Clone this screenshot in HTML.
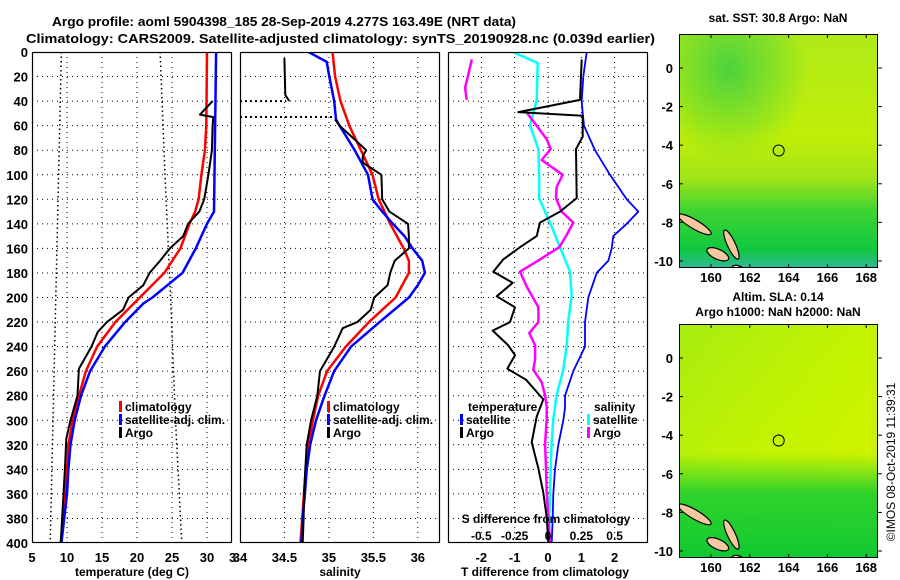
<!DOCTYPE html>
<html><head><meta charset="utf-8"><style>
html,body{margin:0;padding:0;background:#fff;}
svg{display:block;font-family:"Liberation Sans",Arial,sans-serif;font-weight:bold;}
</style></head><body>
<svg id="fig" width="900" height="580" viewBox="0 0 900 580" xmlns="http://www.w3.org/2000/svg">
<defs>
<linearGradient id="g1" x1="0" y1="0" x2="0" y2="1">
<stop offset="0" stop-color="#b0ea18"/><stop offset="0.45" stop-color="#c0ee08"/><stop offset="0.62" stop-color="#a0e418"/><stop offset="0.75" stop-color="#40d430"/><stop offset="0.92" stop-color="#10c840"/><stop offset="1" stop-color="#30b898"/>
</linearGradient>
<radialGradient id="g1b" cx="0.25" cy="0.15" r="0.4"><stop offset="0" stop-color="#40d040" stop-opacity="0.9"/><stop offset="1" stop-color="#40d040" stop-opacity="0"/></radialGradient>
<linearGradient id="g2" x1="0" y1="0" x2="1" y2="1">
<stop offset="0" stop-color="#a8ec10"/><stop offset="0.5" stop-color="#c4f400"/><stop offset="1" stop-color="#d8f000"/>
</linearGradient>
<linearGradient id="g2b" x1="0" y1="0" x2="0" y2="1">
<stop offset="0" stop-color="#30d030" stop-opacity="0"/><stop offset="0.55" stop-color="#30d030" stop-opacity="0"/><stop offset="0.72" stop-color="#20d030" stop-opacity="0.9"/><stop offset="1" stop-color="#10c830" stop-opacity="1"/>
</linearGradient>
<clipPath id="c1"><rect x="32" y="52" width="200" height="491"/></clipPath>
<clipPath id="c2"><rect x="240" y="52" width="200" height="491"/></clipPath>
<clipPath id="c3"><rect x="448" y="52" width="200" height="491"/></clipPath>
<clipPath id="cm1"><rect x="679" y="34" width="199" height="234"/></clipPath>
<clipPath id="cm2"><rect x="679" y="324" width="199" height="234"/></clipPath>
</defs>
<text x="52" y="26" font-size="13" textLength="464" lengthAdjust="spacingAndGlyphs">Argo profile: aoml 5904398_185 28-Sep-2019 4.277S 163.49E (NRT data)</text>
<text x="26" y="43" font-size="13" textLength="629" lengthAdjust="spacingAndGlyphs">Climatology: CARS2009. Satellite-adjusted climatology: synTS_20190928.nc (0.039d earlier)</text>
<g id="p1"></g>
<g id="p2"></g>
<g id="p3"></g>
<g id="m1"></g>
<g id="m2"></g>
<text transform="translate(895,462) rotate(-90)" text-anchor="middle" font-size="12" font-weight="normal">©IMOS 08-Oct-2019 11:39:31</text>
</svg>
<script>
// ---------- data ----------
const depthTicks = [0,20,40,60,80,100,120,140,160,180,200,220,240,260,280,300,320,340,360,380,400];
const tTickLabels = [5,10,15,20,25,30];
const sTickLabels = [34,34.5,35,35.5,36];
const dTTickLabels = [-2,-1,0,1,2];
const dSTickLabels = ["-0.5","-0.25","0","0.25","0.5"];
const dSTickValues = [-0.5,-0.25,0,0.25,0.5];

const tClimDepth = [0,60,80,100,120,130,140,160,180,200,220,240,260,280,300,320,340,360,380,400];
const tClim      = [30.0,29.9,29.7,29.2,28.8,28.3,27.5,26.2,23.9,20.4,16.9,14.3,12.7,11.7,10.8,10.2,10.0,9.8,9.5,9.1];
const tSatDepth  = [0,130,140,160,180,200,205,220,240,260,280,300,320,340,360,380,400];
const tSat       = [31.3,31.0,30.0,28.4,26.5,22.2,20.9,18.3,15.4,13.3,12.0,11.1,10.5,10.2,10.0,9.6,9.2];
const tArgoDepth = [40,51,53,60,80,100,120,130,140,150,160,170,180,190,200,210,220,228,240,258,280,300,315,340,360,380,400];
const tArgo      = [30.8,29.0,30.9,30.8,30.7,30.2,29.6,28.9,27.3,26.6,24.7,23.3,21.8,20.9,18.8,18.0,15.7,14.4,13.5,11.7,11.5,10.5,9.9,9.7,9.5,9.3,9.1];
const tMinDepth = [0,400];
const tMin = [9.2,7.6];
const tMaxDepth = [0,100,200,300,400];
const tMax = [23.3,24.0,24.8,25.5,26.4];

const sClimDepth = [0,20,40,60,80,100,120,140,160,170,180,200,220,240,260,280,300,320,340,360,380,400];
const sClim      = [35.04,35.07,35.13,35.23,35.36,35.49,35.56,35.69,35.84,35.90,35.90,35.75,35.45,35.19,34.98,34.88,34.82,34.77,34.74,34.72,34.70,34.68];
const sSatDepth  = [0,8,20,40,55,60,80,100,120,130,140,150,160,170,180,190,200,220,240,260,280,300,320,340,360,380,400];
const sSat       = [34.77,34.975,35.005,35.06,35.08,35.12,35.29,35.44,35.49,35.60,35.72,35.85,35.94,36.05,36.08,36.00,35.90,35.57,35.25,35.06,34.95,34.855,34.79,34.75,34.73,34.705,34.69];
const sArgoTopDepth = [5,35,40];
const sArgoTop = [34.50,34.51,34.555];
const sArgoDepth = [55,60,70,80,85,90,100,120,130,140,150,160,170,180,190,200,210,220,225,240,260,280,300,320,340,360,380,400];
const sArgo      = [35.07,35.12,35.27,35.42,35.38,35.38,35.59,35.60,35.68,35.89,35.90,35.90,35.74,35.69,35.66,35.51,35.47,35.32,35.155,35.06,34.90,34.87,34.80,34.75,34.735,34.72,34.715,34.705];
const sBadDepth = [40,53];
const sBad = [34.52,35.07];

const dTSatDepth = [0,20,40,50,60,80,100,120,130,140,150,160,170,180,200,220,240,260,280,290,300,320,340,360,380,400];
const dTSat      = [1.16,1.06,1.01,1.04,1.08,1.41,1.86,2.36,2.71,2.36,1.96,1.91,1.81,1.46,1.21,1.11,1.11,0.76,0.51,0.51,0.46,0.31,0.21,0.16,0.14,0.11];
const dTArgoDepth = [6,39,49,52,69,79,119,130,139,150,159,169,179,188,199,208,220,227,239,247,258,267,283,297,318,339,359,379,400];
const dTArgo      = [1.01,0.96,-0.89,1.04,1.04,0.84,0.86,0.36,-0.24,-0.34,-0.84,-1.34,-1.64,-1.06,-1.54,-0.99,-1.14,-1.66,-1.19,-0.99,-1.22,-0.66,-0.14,-0.34,-0.49,-0.29,-0.14,-0.04,0.01];
const dSSatDepth = [0,9,39,50,60,79,100,119,130,139,159,179,199,219,239,259,279,299,319,339,359,380,400];
const dSSat      = [-0.265,-0.077,-0.085,-0.11,-0.135,-0.072,-0.067,-0.067,-0.022,0.015,0.09,0.165,0.177,0.152,0.14,0.115,0.065,0.04,0.027,0.02,0.015,0.01,0.01];
const dSArgoTopDepth = [6,18,29,39];
const dSArgoTop = [-0.572,-0.597,-0.622,-0.61];
const dSArgoDepth = [50,60,71,79,88,100,110,119,130,139,150,159,169,179,191,208,220,229,239,250,259,269,280,289,299,319,339,359,379,400];
const dSArgo      = [-0.155,-0.085,-0.01,0.02,-0.047,0.11,0.065,0.06,0.102,0.19,0.135,0.085,-0.06,-0.21,-0.16,-0.072,-0.072,-0.14,-0.097,-0.097,-0.11,-0.047,-0.022,-0.01,-0.01,-0.022,-0.015,-0.01,0.002,0.015];

const mapLonTicks = [160,162,164,166,168];
const mapLatTicks = [0,-2,-4,-6,-8,-10];
const argoLon = 163.49, argoLat = -4.277;

// ---------- scales ----------
const Y0=52, Y1=543, DMAX=400;
const yD = d => Y0 + d*(Y1-Y0)/DMAX;
const xT = t => 32 + (t-5)*7;
const xS = s => 240 + (s-34)*88.9;
const xDT = v => 548 + v*33.33;
const xDS = v => 548 + v*133.3;
const NS='http://www.w3.org/2000/svg';
function mk(parent, tag, attrs, txt){
  const e=document.createElementNS(NS,tag);
  for(const k in attrs) e.setAttribute(k,attrs[k]);
  if(txt!==undefined) e.textContent=txt;
  parent.appendChild(e); return e;
}
function pathD(xs, ds, fx){
  return ds.map((d,i)=>(i?'L':'M')+fx(xs[i]).toFixed(1)+','+yD(d).toFixed(1)).join('');
}
function line(g, name, xs, ds, fx, color, w, clip, dash){
  const p=mk(g,'path',{d:pathD(xs,ds,fx),fill:'none',stroke:color,'stroke-width':w,'clip-path':'url(#'+clip+')','stroke-linejoin':'round'});
  if(dash) p.setAttribute('stroke-dasharray',dash);
  
  
  return p;
}
function frame(g, x0, clip, vgrid, fx){
  depthTicks.forEach((d,i)=>{ if(i>0&&i<depthTicks.length-1){
    const l=mk(g,'line',{x1:x0,x2:x0+200,y1:yD(d),y2:yD(d),stroke:'#000','stroke-width':1,'stroke-dasharray':'1,4'});
    
    
  }});
  vgrid.forEach(v=>{
    const l=mk(g,'line',{x1:fx(v),x2:fx(v),y1:Y0,y2:Y1,stroke:'#000','stroke-width':1,'stroke-dasharray':'1,4'});
    
    
  });
}
function box(g,x0){
  const r=mk(g,'rect',{x:x0+0.5,y:Y0+0.5,width:199,height:490,fill:'none',stroke:'#000','stroke-width':1.2});
  
  
}
function legendRow(g, x, y, color, label){
  const b=mk(g,'rect',{x:x,y:y-10,width:3,height:11,fill:color});
  
  
  const t=mk(g,'text',{x:x+6,y:y,'font-size':12},label);
  
  
}

// ---------- panel 1: temperature ----------
const p1=document.getElementById('p1');
frame(p1,32,'c1',[10,15,20,25,30],xT);
line(p1,'climatology-std-low-line',tMin,tMinDepth,xT,'#000',1.5,'c1','1.5,3');
line(p1,'climatology-std-high-line',tMax,tMaxDepth,xT,'#000',1.5,'c1','1.5,3');
line(p1,'temperature-climatology-line',tClim,tClimDepth,xT,'#f00',2.5,'c1');
line(p1,'temperature-satellite-line',tSat,tSatDepth,xT,'#00f',2.5,'c1');
line(p1,'temperature-argo-line',tArgo,tArgoDepth,xT,'#000',2,'c1');
box(p1,32);
depthTicks.forEach(d=>{
  const t=mk(p1,'text',{x:28,y:yD(d)+5,'font-size':13,'text-anchor':'end'},String(d));
  
  
});
tTickLabels.forEach(v=>{
  const t=mk(p1,'text',{x:xT(v),y:562,'font-size':13,'text-anchor':'middle'},String(v));
  
  
});
{const t=mk(p1,'text',{x:229,y:562,'font-size':13},'3');}
{const t=mk(p1,'text',{x:132,y:576,'font-size':12,'text-anchor':'middle'},'temperature (deg C)');}
legendRow(p1,119,411,'#f00','climatology');
legendRow(p1,119,424,'#00f','satellite-adj. clim.');
legendRow(p1,119,437,'#000','Argo');

// ---------- panel 2: salinity ----------
const p2=document.getElementById('p2');
frame(p2,240,'c2',[34.5,35,35.5,36],xS);
sBadDepth.forEach((d,i)=>{
  const l=mk(p2,'line',{x1:240,x2:xS(sBad[i]),y1:yD(d),y2:yD(d),stroke:'#000','stroke-width':2,'stroke-dasharray':'2,3'});
  
  
});
line(p2,'salinity-climatology-line',sClim,sClimDepth,xS,'#f00',2.5,'c2');
line(p2,'salinity-satellite-line',sSat,sSatDepth,xS,'#00f',2.5,'c2');
line(p2,'salinity-argo-top-line',sArgoTop,sArgoTopDepth,xS,'#000',2,'c2');
line(p2,'salinity-argo-line',sArgo,sArgoDepth,xS,'#000',2,'c2');
box(p2,240);
sTickLabels.forEach(v=>{
  const t=mk(p2,'text',{x:xS(v),y:562,'font-size':13,'text-anchor':'middle'},String(v));
  
  
});
{const t=mk(p2,'text',{x:340,y:576,'font-size':12,'text-anchor':'middle'},'salinity');}
legendRow(p2,327,411,'#f00','climatology');
legendRow(p2,327,424,'#00f','satellite-adj. clim.');
legendRow(p2,327,437,'#000','Argo');

// ---------- panel 3: differences ----------
const p3=document.getElementById('p3');
frame(p3,448,'c3',dTTickLabels,xDT);
line(p3,'t-diff-satellite-line',dTSat,dTSatDepth,xDT,'#00f',1.8,'c3');
line(p3,'s-diff-satellite-line',dSSat,dSSatDepth,xDS,'#0ff',2.5,'c3');
line(p3,'s-diff-argo-top-line',dSArgoTop,dSArgoTopDepth,xDS,'#f0f',2.5,'c3');
line(p3,'s-diff-argo-line',dSArgo,dSArgoDepth,xDS,'#f0f',2.5,'c3');
line(p3,'t-diff-argo-line',dTArgo,dTArgoDepth,xDT,'#000',2,'c3');
box(p3,448);
dTTickLabels.forEach(v=>{
  const t=mk(p3,'text',{x:xDT(v),y:562,'font-size':13,'text-anchor':'middle'},String(v));
  
  
});
dSTickValues.forEach((v,i)=>{
  const t=mk(p3,'text',{x:xDS(v),y:540,'font-size':12,'text-anchor':'middle'},dSTickLabels[i]);
  
  
});
{const t=mk(p3,'text',{x:546,y:523,'font-size':12,'text-anchor':'middle'},'S difference from climatology');}
{const t=mk(p3,'text',{x:545,y:576,'font-size':12,'text-anchor':'middle'},'T difference from climatology');}
{const t=mk(p3,'text',{x:468,y:411,'font-size':12},'temperature');}
{const t=mk(p3,'text',{x:594,y:411,'font-size':12},'salinity');}
legendRow(p3,460,424,'#00f','satellite');
legendRow(p3,460,437,'#000','Argo');
legendRow(p3,587,424,'#0ff','satellite');
legendRow(p3,587,437,'#f0f','Argo');

// ---------- maps ----------
function drawMap(id, top, clip, fillA, fillB, title1, title2){
  const g=document.getElementById(id);
  const lx = lon => 711 + (lon-160)*19.4;
  const ly = lat => top + 34 - lat*19.3;
  const bg=mk(g,'rect',{x:679,y:top,width:199,height:234,fill:fillA});
  
  
  const ov=mk(g,'rect',{x:679,y:top,width:199,height:234,fill:fillB});
  
  
  const cg=mk(g,'g',{'clip-path':'url(#'+clip+')'});
  
  
  const isl=[[158.3,-7.6,160.0,-8.6,7],[160.7,-8.4,161.4,-9.9,6],[159.8,-9.4,160.9,-9.9,8],[161.1,-10.3,161.7,-10.5,4]];
  isl.forEach(a=>{
    const x1=lx(a[0]),y1=ly(a[1]),x2=lx(a[2]),y2=ly(a[3]);
    const cx=(x1+x2)/2, cy=(y1+y2)/2, len=Math.hypot(x2-x1,y2-y1)/2, ang=Math.atan2(y2-y1,x2-x1)*180/Math.PI;
    const e=mk(cg,'ellipse',{cx:cx,cy:cy,rx:len,ry:a[4]/2+1,transform:'rotate('+ang+' '+cx+' '+cy+')',fill:'#f5c8a0',stroke:'#000','stroke-width':1.2});
    
    
  });
  const c=mk(g,'circle',{cx:lx(argoLon),cy:ly(argoLat),r:5.5,fill:'none',stroke:'#000','stroke-width':1});
  
  
  const fr=mk(g,'rect',{x:679.5,y:top+0.5,width:198,height:233,fill:'none',stroke:'#000','stroke-width':1});
  
  
  mapLonTicks.forEach(v=>{
    const t=mk(g,'text',{x:lx(v),y:top+248,'font-size':13,'text-anchor':'middle'},String(v));
    
    
    mk(g,'line',{x1:lx(v),x2:lx(v),y1:top,y2:top+4,stroke:'#000'});
    mk(g,'line',{x1:lx(v),x2:lx(v),y1:top+234,y2:top+230,stroke:'#000'});
  });
  mapLatTicks.forEach(v=>{
    const t=mk(g,'text',{x:673,y:ly(v)+5,'font-size':13,'text-anchor':'end'},String(v));
    
    
    mk(g,'line',{x1:878,x2:882,y1:ly(v),y2:ly(v),stroke:'#000'});
    mk(g,'line',{x1:679,x2:683,y1:ly(v),y2:ly(v),stroke:'#000'});
  });
  const t1=mk(g,'text',{x:778,y:title2?top-23:top-12,'font-size':12,'text-anchor':'middle'},title1);
  
  
  if(title2){
    const t2=mk(g,'text',{x:778,y:top-8,'font-size':12,'text-anchor':'middle'},title2);
    
    
  }
}
drawMap('m1',34,'cm1','url(#g1)','url(#g1b)','sat. SST: 30.8 Argo: NaN');
drawMap('m2',324,'cm2','url(#g2)','url(#g2b)','Altim. SLA: 0.14','Argo h1000: NaN h2000: NaN');
</script>
</body></html>
